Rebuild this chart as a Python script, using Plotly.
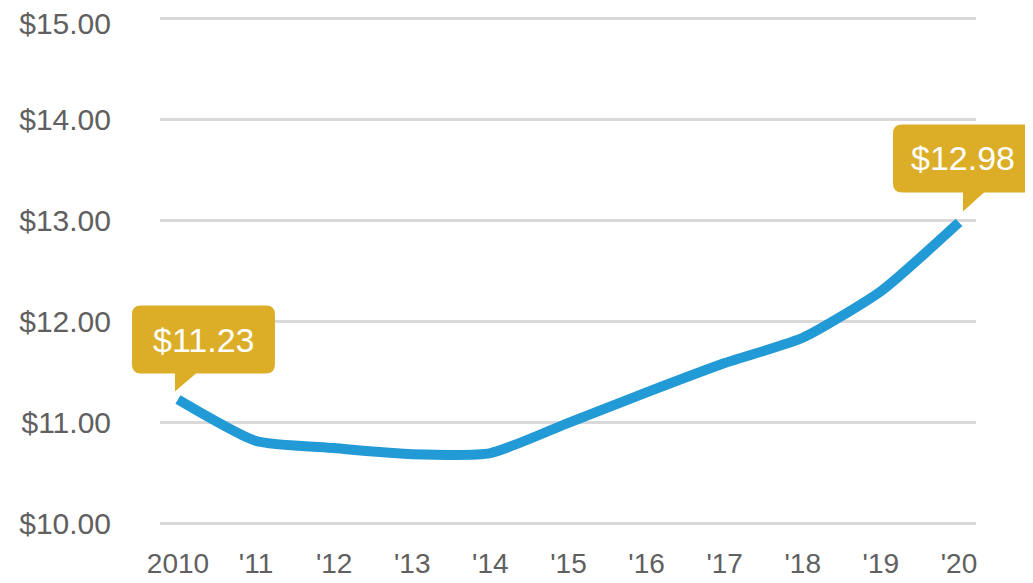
import plotly.graph_objects as go

years = [2010, 2011, 2012, 2013, 2014, 2015, 2016, 2017, 2018, 2019, 2020]
year_labels = ["2010", "'11", "'12", "'13", "'14", "'15", "'16", "'17", "'18", "'19", "'20"]
prices = [11.23, 10.82, 10.75, 10.69, 10.70, 11.00, 11.30, 11.59, 11.84, 12.30, 12.98]
y_ticks = [10, 11, 12, 13, 14, 15]
y_tick_labels = ["$10.00", "$11.00", "$12.00", "$13.00", "$14.00", "$15.00"]

LINE_COLOR = "#229ad6"
CALLOUT_COLOR = "#dcae28"
GRID_COLOR = "#d9d9d9"
TICK_COLOR = "#606060"
FONT = "Liberation Sans, Arial, sans-serif"

X_RANGE = [2009.77, 2020.218]
Y_RANGE = [9.98, 15.02]


def to_paper_x(v):
    return (v - X_RANGE[0]) / (X_RANGE[1] - X_RANGE[0])


def bubble_path(left, right, bottom, top, tipx, tipy, base_w, r):
    pts = [
        f"M {left + r},{top}",
        f"L {right - r},{top}",
        f"Q {right},{top} {right},{top - r}",
        f"L {right},{bottom + r}",
        f"Q {right},{bottom} {right - r},{bottom}",
        f"L {tipx + base_w},{bottom}",
        f"L {tipx},{tipy}",
        f"L {tipx},{bottom}",
        f"L {left + r},{bottom}",
        f"Q {left},{bottom} {left},{bottom + r}",
        f"L {left},{top - r}",
        f"Q {left},{top} {left + r},{top}",
        "Z",
    ]
    return " ".join(pts)


fig = go.Figure()
fig.add_trace(go.Scatter(
    x=years, y=prices, mode="lines",
    line=dict(color=LINE_COLOR, width=10, shape="spline", smoothing=0.55),
    hoverinfo="skip",
))
# empty trace so the overlaid axis (carrying the top tick label) is drawn
fig.add_trace(go.Scatter(x=[], y=[], yaxis="y2", hoverinfo="skip"))

callouts = [
    (0, dict(left=-46, right=97, bottom=26, top=94, tipx=-3, tipy=8, base_w=21, r=9)),
    (len(years) - 1, dict(left=-66, right=74, bottom=30, top=98, tipx=4, tipy=11, base_w=21, r=9)),
]
for idx, g in callouts:
    fig.add_shape(
        type="path", xref="paper", yref="y",
        xsizemode="pixel", ysizemode="pixel",
        xanchor=to_paper_x(years[idx]), yanchor=prices[idx],
        path=bubble_path(**g),
        fillcolor=CALLOUT_COLOR, line=dict(width=0), layer="above",
    )
    fig.add_annotation(
        x=years[idx], y=prices[idx], xref="x", yref="y",
        text=f"${prices[idx]:.2f}", showarrow=False,
        xshift=(g["left"] + g["right"]) / 2, yshift=(g["bottom"] + g["top"]) / 2,
        font=dict(family=FONT, size=34, color="white"),
    )

tick_font = dict(size=30, color=TICK_COLOR)

# the page body has an 8px margin, so the figure is sized to fill the
# remaining window and the margins are reduced accordingly
fig.update_layout(
    template="none",
    width=1025, height=575,
    margin=dict(l=152, r=57, t=8, b=57, pad=0),
    paper_bgcolor="white", plot_bgcolor="white",
    showlegend=False,
    font=dict(family=FONT),
    xaxis=dict(
        range=X_RANGE, automargin=False,
        tickvals=years, ticktext=year_labels,
        showgrid=False, zeroline=False, showline=False,
        ticks="", ticklabelstandoff=18, ticklabeloverflow="allow",
        tickfont=dict(size=28, color=TICK_COLOR),
    ),
    yaxis=dict(
        range=Y_RANGE, automargin=False,
        tickvals=y_ticks, ticktext=y_tick_labels[:-1] + [""],
        showgrid=True, gridcolor=GRID_COLOR, gridwidth=3,
        zeroline=False, showline=False,
        ticks="", ticklabelstandoff=48, ticklabeloverflow="allow",
        tickfont=tick_font,
    ),
    yaxis2=dict(
        range=Y_RANGE, automargin=False, overlaying="y", side="left",
        tickvals=y_ticks[-1:], ticktext=y_tick_labels[-1:],
        showgrid=False, zeroline=False, showline=False,
        ticks="", ticklabelstandoff=48, ticklabeloverflow="allow",
        ticklabelshift=5,
        tickfont=tick_font,
    ),
)

fig.write_html("out.html")
